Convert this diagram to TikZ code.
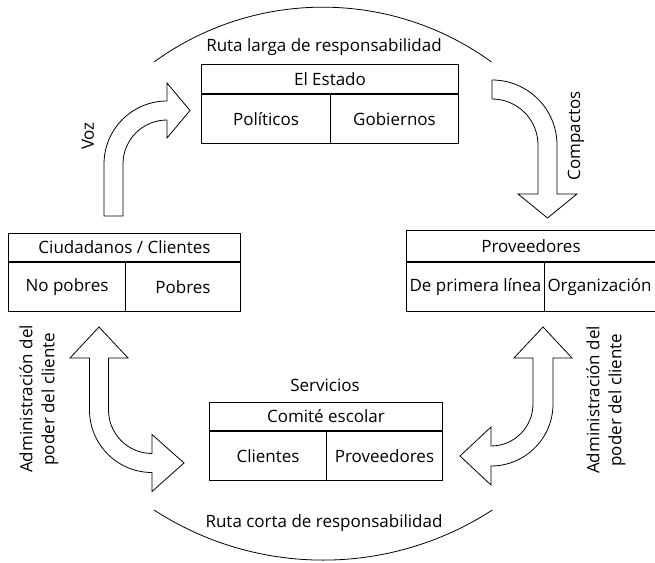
\documentclass[tikz,border=0pt]{standalone}
\usepackage{fontspec}
\setmainfont{Open Sans}
\usetikzlibrary{positioning}

\tikzset{
    hdr/.style={draw, line width=1pt, inner sep=0pt, minimum height=28pt},
    cellbox/.style={draw, line width=1pt, inner sep=0pt, minimum height=49pt},
    fatarrow/.style={draw, line width=0.8pt, fill=white, line join=miter},
    routearc/.style={draw, line width=0.8pt},
    txt/.style={inner sep=0pt}
}

\begin{document}
\begin{tikzpicture}[x=1pt, y=1pt, font=\fontsize{17}{22}\selectfont]

    % --- Page frame ---
    \useasboundingbox (0,0) rectangle (655,562);

    % --- Route arcs ---
    % Long route on top, short route at the bottom
    \draw[routearc] (154,500) arc[start angle=126, end angle=54, radius=287.1];
    \draw[routearc] (154,52) arc[start angle=237, end angle=303, radius=310.6];
    \node[txt, anchor=base] (larga) at (324,510) {Ruta larga de responsabilidad};
    \node[txt, anchor=base] (corta) at (324,35) {Ruta corta de responsabilidad};

    % --- El Estado ---
    \node[hdr, minimum width=257pt, minimum height=29pt, anchor=north west] (estado) at (201,498) {El Estado};
    \node[cellbox, minimum width=129pt, anchor=north west] (politicos) at (estado.south west) {Políticos};
    \node[cellbox, minimum width=128pt, anchor=north east] (gobiernos) at (estado.south east) {Gobiernos};

    % --- Ciudadanos / Clientes ---
    \node[hdr, minimum width=232pt, anchor=north west] (ciudadanos) at (8,329) {Ciudadanos / Clientes};
    \node[cellbox, minimum width=117pt, anchor=north west] (nopobres) at (ciudadanos.south west) {No pobres};
    \node[cellbox, minimum width=115pt, anchor=north east] (pobres) at (ciudadanos.south east) {Pobres};

    % --- Proveedores (runs past the right edge) ---
    \node[hdr, minimum width=251pt, minimum height=31pt, anchor=north west] (proveedores) at (406,332) {\hspace*{-2pt}Proveedores};
    \node[cellbox, minimum width=138pt, anchor=north west] (primera) at (proveedores.south west) {De primera línea};
    \node[cellbox, minimum width=113pt, anchor=north east] (organizacion) at (proveedores.south east) {Organización\hspace*{3pt}};

    % --- Servicios ---
    \node[txt, anchor=base] (servicios) at (325,170) {Servicios};
    \node[hdr, minimum width=233pt, anchor=north west] (comite) at (209,160) {Comité escolar};
    \node[cellbox, minimum width=117pt, anchor=north west] (clientes) at (comite.south west) {Clientes};
    \node[cellbox, minimum width=116pt, anchor=north east] (provserv) at (comite.south east) {Proveedores};

    % --- Voz arrow ---
    % Shaft up from the citizens, bending right into the state
    \draw[fatarrow] (104,346) -- (104,398) arc[start angle=180, end angle=90, radius=63]
        -- (167,479) -- (190,451.5) -- (167,424) -- (167,442)
        arc[start angle=90, end angle=180, radius=44] -- (123,346) -- cycle;
    \node[txt, rotate=90] (voz) at (88,426) {Voz};

    % --- Compactos arrow ---
    % From the state, bending down into the providers
    \draw[fatarrow] (492,482) arc[start angle=90, end angle=0, radius=65]
        -- (557,368) -- (577,368) -- (547.5,344) -- (518,368) -- (538,368) -- (538,417)
        arc[start angle=0, end angle=90, radius=46] -- cycle;
    \node[txt, rotate=90] (compactos) at (576,426) {Compactos};

    % --- Client power, left ---
    \draw[fatarrow] (89.5,204) -- (89.5,152) arc[start angle=180, end angle=270, radius=62.5]
        -- (152,70.5) -- (184,99) -- (152,127.5) -- (152,108.5)
        arc[start angle=270, end angle=180, radius=43.5]
        -- (108.5,204) -- (128,204) -- (99,235) -- (70,204) -- cycle;
    \node[txt, rotate=90, align=center] (poderizq) at (39,163) {Administración del\\poder del cliente};

    % --- Client power, right ---
    \draw[fatarrow] (553,204) -- (553,158) arc[start angle=0, end angle=-90, radius=62]
        -- (491,77) -- (460,106) -- (491,135) -- (491,116)
        arc[start angle=270, end angle=360, radius=42]
        -- (533,204) -- (514,204) -- (543,235) -- (572,204) -- cycle;
    \node[txt, rotate=90, align=center] (poderder) at (606,162) {Administración del\\poder del cliente};

\end{tikzpicture}
\end{document}
